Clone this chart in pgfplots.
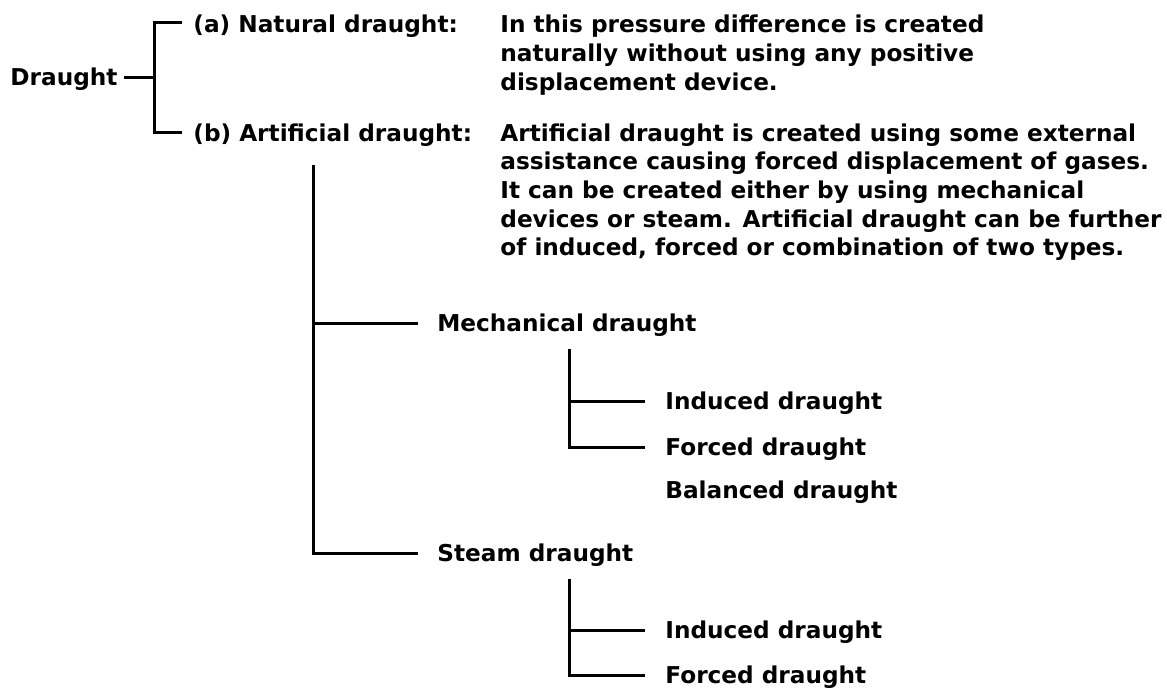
\documentclass[border=0pt]{standalone}
\usepackage{pgfplots}
\pgfplotsset{compat=1.18}
\usepackage{fontspec}
\setmainfont{DejaVu Sans}
\newcommand\tf{\fontsize{11.6pt}{14pt}\selectfont\bfseries}
\tikzset{lab/.style={anchor=base west, inner sep=0pt, font=\tf},
  br/.style={black, solid, line width=1.5pt, line join=miter, mark=none}}
\begin{document}
\begin{tikzpicture}
\begin{axis}[
  scale only axis, width=583.5pt, height=345pt,
  xmin=0, xmax=1167, ymin=0, ymax=690, y dir=reverse,
  enlargelimits=false, hide axis, clip=false, no markers,
]
\addplot[draw=none] coordinates {(0,0) (1167,690)};
% tree lines
\addplot[br] coordinates {(124,78) (154,78)};
\addplot[br] coordinates {(182,23) (154,23) (154,133) (182,133)};
\addplot[br] coordinates {(313,165) (313,553) (418,553)};
\addplot[br] coordinates {(313,323) (418,323)};
\addplot[br] coordinates {(569,349) (569,447) (645,447)};
\addplot[br] coordinates {(569,401) (645,401)};
\addplot[br] coordinates {(569,579) (569,675) (645,675)};
\addplot[br] coordinates {(569,630) (645,630)};
% labels
\node[lab] at (axis cs:10,86) {Draught};
\node[lab] at (axis cs:193,33) {(a) Natural draught:};
\node[lab] at (axis cs:193,141) {(b) Artificial draught:};
\node[lab] at (axis cs:500,33) {In this pressure difference is created};
\node[lab] at (axis cs:500,61.7) {naturally without using any positive};
\node[lab] at (axis cs:500,90.4) {displacement device.};
\node[lab] at (axis cs:500,141) {Artificial draught is created using some external};
\node[lab] at (axis cs:500,169.7) {assistance causing forced displacement of gases.};
\node[lab] at (axis cs:500,198.4) {It can be created either by using mechanical};
\node[lab] at (axis cs:500,227.1) {devices or steam. Artificial draught can be further};
\node[lab] at (axis cs:500,255.8) {of induced, forced or combination of two types.};
\node[lab] at (axis cs:437,331) {Mechanical draught};
\node[lab] at (axis cs:665,409) {Induced draught};
\node[lab] at (axis cs:665,455) {Forced draught};
\node[lab] at (axis cs:665,498) {Balanced draught};
\node[lab] at (axis cs:437,561) {Steam draught};
\node[lab] at (axis cs:665,638) {Induced draught};
\node[lab] at (axis cs:665,683) {Forced draught};
\end{axis}
\end{tikzpicture}
\end{document}
